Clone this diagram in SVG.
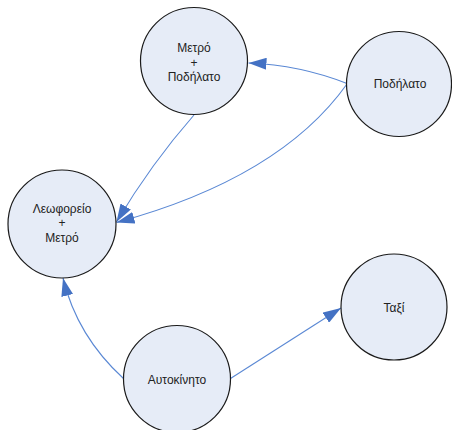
<svg xmlns="http://www.w3.org/2000/svg" width="452" height="430" viewBox="0 0 452 430">
<defs>
<style>
.node circle{fill:#e6ecf7;stroke:#1a1a1a;stroke-width:1.2}
.node text{font-family:"Liberation Sans",Arial,sans-serif;font-size:12px;fill:#222;text-anchor:middle}
.edge{fill:none;stroke:#5a88d4;stroke-width:1.1;marker-end:url(#arr)}
</style>
<marker id="arr" viewBox="0 0 18 12" refX="18" refY="6" markerWidth="18" markerHeight="12" markerUnits="userSpaceOnUse" orient="auto">
<path d="M0,0 L18,6 L0,12 Z" fill="#4472c4"/>
</marker>
</defs>
<rect width="452" height="430" fill="#ffffff"/>
<g id="connectors">
<path class="edge" d="M347,83.5 Q300,65 248.5,63"/>
<path class="edge" d="M347,84 Q280,178 116.5,222.5"/>
<path class="edge" d="M194,115 Q151,164 116.5,222"/>
<path class="edge" d="M123.5,378.5 Q77,336 63,278"/>
<path class="edge" d="M230.5,378.5 L341,308"/>
</g>
<g id="metro-podilato" class="node">
<circle cx="194" cy="61" r="53.5"/>
<text x="194" y="52">Μετρό</text>
<text x="194" y="66.5">+</text>
<text x="194" y="81">Ποδήλατο</text>
</g>
<g id="podilato" class="node">
<circle cx="399" cy="84" r="52.5"/>
<text x="400" y="88">Ποδήλατο</text>
</g>
<g id="leoforeio-metro" class="node">
<circle cx="62" cy="224" r="54"/>
<text x="62" y="213">Λεωφορείο</text>
<text x="62" y="227">+</text>
<text x="62" y="241.5">Μετρό</text>
</g>
<g id="taxi" class="node">
<circle cx="394" cy="307" r="53"/>
<text x="394" y="312">Ταξί</text>
</g>
<g id="autokinito" class="node">
<circle cx="177" cy="379" r="53.5"/>
<text x="177" y="384">Αυτοκίνητο</text>
</g>
</svg>
